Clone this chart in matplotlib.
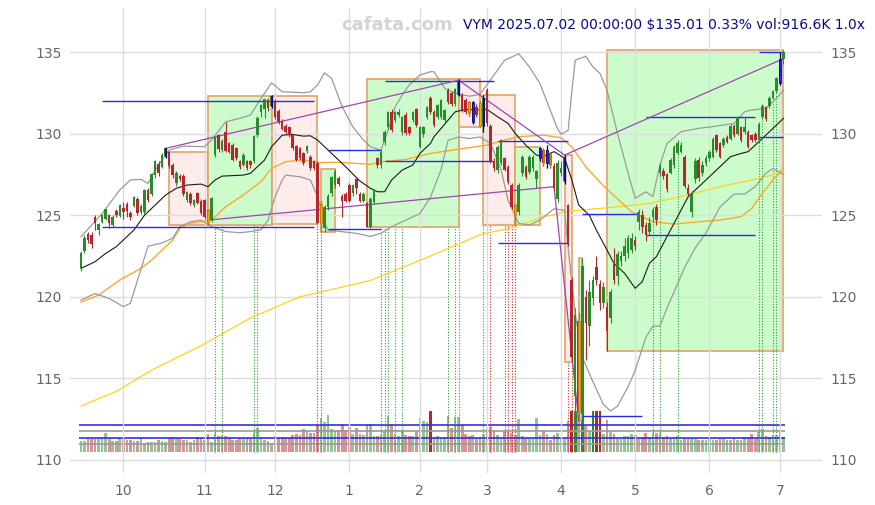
import numpy as np
import pandas as pd
import matplotlib
matplotlib.use('Agg')
import matplotlib.pyplot as plt
from matplotlib.patches import Rectangle

# trading days shown (NYSE closures removed)
holidays = ['2024-11-28', '2024-12-25', '2025-01-01', '2025-01-09', '2025-01-20',
            '2025-02-17', '2025-04-18', '2025-05-26', '2025-06-19']
dates = pd.bdate_range('2024-09-13', '2025-07-02', freq='C', holidays=holidays)

opens = [121.74, 122.83, 123.85, 123.79, 124.91, 124.09, 124.6, 124.8, 124.99, 124.4,
         125.26, 124.97, 125.46, 125.69, 125.15, 125.56, 125.97, 125.22, 125.22, 126.54,
         126.28, 127.46, 128.14, 127.97, 128.63, 128.85, 128.1, 126.95, 127.4, 127.4,
         125.95, 126.3, 125.6, 126.34, 125.87, 125.93, 125.3, 124.7, 128.7, 129.9,
         129.0, 130.12, 129.4, 129.3, 129.1, 128.3, 128.1, 128.3, 128.3, 128.3,
         129.91, 131.3, 131.5, 132.05, 131.7, 132.0, 131.4, 130.8, 130.45, 130.4,
         129.91, 129.24, 129.1, 128.83, 128.95, 128.59, 128.3, 128.2, 124.5, 124.2,
         125.5, 126.34, 126.85, 127.3, 126.2, 126.3, 126.85, 126.34, 127.2, 126.3,
         125.9, 125.73, 124.3, 125.83, 128.48, 128.08, 129.5, 130.42, 131.34, 130.83,
         131.14, 130.12, 131.14, 130.42, 130.83, 131.5, 129.2, 130.0, 131.04, 132.16,
         131.34, 131.04, 131.04, 130.83, 132.67, 132.47, 131.85, 132.4, 132.37, 132.06,
         131.95, 130.73, 131.65, 131.9, 130.5, 132.67, 130.5, 128.3, 127.8, 128.2,
         128.48, 127.97, 126.85, 125.6, 125.2, 127.57, 127.97, 127.67, 127.9, 127.2,
         128.5, 129.0, 128.2, 128.8, 128.0, 126.0, 127.6, 127.1, 125.6, 121.0,
         113.9, 118.5, 112.8, 120.0, 118.2, 119.9, 121.85, 120.8, 119.6, 119.4,
         118.7, 122.0, 121.3, 122.2, 122.5, 122.7, 122.9, 123.5, 124.6, 125.0,
         124.4, 124.0, 124.9, 125.5, 127.6, 127.7, 127.5, 127.6, 128.1, 128.8,
         128.9, 128.6, 126.7, 125.2, 127.2, 128.4, 127.6, 128.2, 128.5, 128.6,
         129.9, 129.4, 129.3, 129.8, 129.7, 130.5, 130.0, 130.4, 130.1, 130.1,
         129.9, 130.0, 129.6, 131.0, 131.65, 131.7, 132.2, 132.6, 133.1, 134.6]
highs = [122.8, 123.8, 124.0, 124.0, 125.0, 124.5, 125.05, 125.4, 125.1, 125.0,
         125.4, 125.7, 125.8, 125.8, 125.25, 126.2, 126.1, 125.7, 126.6, 126.7,
         127.6, 128.4, 128.3, 128.8, 129.15, 128.95, 128.2, 127.7, 127.5, 127.5,
         126.5, 126.4, 126.0, 126.4, 126.0, 126.0, 125.4, 126.1, 129.85, 130.0,
         129.7, 130.7, 129.5, 129.4, 129.2, 128.4, 128.8, 128.4, 128.4, 129.9,
         131.1, 131.8, 132.15, 132.2, 132.37, 132.1, 131.5, 130.9, 130.6, 130.5,
         130.0, 129.3, 129.2, 128.9, 129.3, 128.7, 128.4, 128.3, 125.9, 125.6,
         126.3, 127.4, 127.83, 127.4, 126.3, 126.4, 127.0, 126.9, 127.3, 126.4,
         126.4, 125.8, 126.1, 126.6, 128.6, 129.0, 130.2, 131.4, 131.5, 131.4,
         131.5, 131.1, 131.3, 130.5, 131.4, 131.6, 130.5, 130.5, 131.7, 132.3,
         131.45, 131.8, 132.1, 131.5, 132.8, 132.6, 132.8, 133.33, 132.5, 132.2,
         132.0, 132.0, 131.8, 132.0, 132.37, 132.8, 130.6, 128.5, 129.3, 129.7,
         128.6, 128.1, 127.0, 125.7, 127.0, 128.7, 128.1, 128.7, 128.7, 127.8,
         129.16, 129.1, 129.3, 128.9, 128.2, 128.4, 128.3, 128.69, 125.7, 121.2,
         119.3, 119.0, 122.4, 120.4, 121.0, 121.3, 122.5, 121.0, 120.9, 119.7,
         120.5, 123.0, 122.8, 122.8, 123.6, 123.8, 123.9, 123.7, 125.4, 125.3,
         124.6, 124.9, 125.5, 125.7, 128.2, 127.9, 127.6, 128.5, 129.3, 129.6,
         129.5, 128.7, 126.9, 126.5, 128.5, 128.6, 128.3, 128.7, 129.0, 129.8,
         130.0, 129.5, 129.8, 129.9, 130.6, 130.6, 131.1, 130.5, 131.0, 130.2,
         130.0, 130.1, 130.7, 131.8, 131.7, 132.3, 132.7, 133.5, 135.0, 135.12]
lows = [121.6, 122.7, 123.3, 123.0, 124.1, 123.8, 124.5, 124.7, 124.2, 124.3,
        124.9, 124.9, 124.8, 124.9, 124.7, 125.5, 125.0, 125.1, 125.1, 125.8,
        126.2, 127.3, 127.4, 127.9, 128.5, 127.9, 127.3, 126.8, 127.1, 126.2,
        125.8, 125.6, 125.5, 125.7, 125.0, 124.8, 124.4, 124.6, 128.6, 128.9,
        128.9, 128.9, 128.8, 128.3, 128.4, 127.85, 128.0, 127.8, 127.9, 128.2,
        129.8, 131.0, 130.95, 131.4, 131.6, 130.9, 130.6, 130.2, 130.0, 129.8,
        129.0, 128.3, 128.4, 128.1, 128.8, 127.8, 127.8, 124.45, 124.0, 123.95,
        125.3, 126.2, 126.7, 126.8, 124.9, 125.8, 125.8, 126.2, 126.3, 125.8,
        125.8, 124.26, 124.2, 125.7, 127.9, 127.9, 129.3, 130.3, 130.1, 130.7,
        131.0, 129.9, 129.9, 129.9, 130.7, 130.4, 129.1, 129.8, 130.9, 131.2,
        130.4, 130.9, 130.9, 130.7, 131.8, 131.7, 131.7, 132.3, 131.3, 131.2,
        131.1, 130.6, 131.0, 130.38, 130.1, 130.5, 128.2, 127.7, 127.6, 128.1,
        127.7, 126.9, 125.4, 124.4, 125.0, 127.4, 127.2, 127.5, 127.7, 126.7,
        128.3, 128.0, 127.9, 127.9, 126.5, 125.8, 127.4, 126.9, 123.1, 116.0,
        112.0, 112.4, 112.3, 116.1, 117.0, 119.5, 120.7, 119.2, 119.3, 116.66,
        118.4, 120.8, 120.7, 121.9, 122.2, 122.4, 122.7, 122.9, 124.1, 123.9,
        123.4, 123.8, 124.6, 124.4, 127.4, 127.2, 126.4, 127.5, 127.9, 128.7,
        128.8, 126.7, 126.1, 124.9, 127.0, 127.1, 127.4, 128.0, 128.3, 128.5,
        128.9, 128.5, 129.2, 129.4, 129.6, 129.8, 129.9, 129.5, 130.0, 129.1,
        129.5, 129.5, 129.4, 130.9, 130.8, 131.6, 132.1, 132.5, 133.0, 134.3]
closes = [122.66, 123.58, 123.48, 123.21, 124.54, 124.44, 124.99, 125.36, 124.5, 124.9,
          125.01, 125.62, 125.21, 125.28, 124.91, 126.09, 125.15, 125.56, 126.54, 125.93,
          127.5, 128.34, 127.56, 128.69, 129.1, 128.0, 127.45, 127.6, 127.2, 126.3,
          126.4, 125.75, 125.95, 125.77, 125.11, 124.9, 124.6, 126.03, 129.8, 129.05,
          129.55, 128.95, 128.9, 128.4, 128.5, 127.95, 128.7, 127.9, 128.05, 129.85,
          130.98, 131.75, 132.1, 131.55, 132.3, 131.0, 130.7, 130.3, 130.1, 129.9,
          129.1, 128.38, 128.48, 128.18, 129.24, 127.87, 127.9, 124.5, 125.7, 125.5,
          126.2, 127.36, 127.67, 126.9, 125.9, 125.9, 125.9, 126.85, 126.65, 125.9,
          126.3, 124.3, 126.0, 126.55, 128.08, 128.9, 130.1, 131.34, 130.22, 131.34,
          131.34, 131.04, 130.02, 130.02, 131.34, 130.53, 130.42, 130.42, 131.65, 131.34,
          130.53, 131.75, 132.06, 131.45, 131.95, 131.85, 132.77, 133.2, 131.45, 131.34,
          131.24, 131.95, 131.14, 130.45, 132.2, 130.63, 128.3, 127.9, 129.2, 129.6,
          127.77, 127.05, 125.5, 125.0, 126.85, 128.55, 127.36, 128.55, 128.6, 127.7,
          129.1, 128.2, 129.0, 128.1, 126.65, 128.2, 127.9, 128.5, 123.3, 116.3,
          118.9, 113.0, 121.9, 118.4, 120.3, 121.0, 121.0, 119.6, 120.6, 117.9,
          120.3, 121.0, 122.6, 122.5, 123.1, 123.6, 123.6, 123.1, 125.2, 124.3,
          123.8, 124.5, 125.3, 124.7, 128.0, 127.4, 126.6, 128.4, 129.2, 129.4,
          129.3, 126.8, 126.3, 126.3, 128.3, 127.3, 128.1, 128.5, 128.9, 129.65,
          129.0, 128.6, 129.7, 129.5, 130.5, 129.9, 131.0, 129.6, 130.4, 129.2,
          129.6, 129.6, 130.6, 131.7, 130.9, 132.2, 132.6, 133.4, 134.57, 135.01]
# volume in thousands of shares
volumes = [661, 661, 785, 785, 785, 785, 909, 1157, 785, 661,
           661, 827, 827, 723, 723, 661, 661, 827, 517, 599,
           599, 599, 723, 661, 599, 827, 909, 909, 785, 723,
           723, 599, 723, 909, 827, 723, 1116, 599, 1157, 971,
           1033, 971, 827, 723, 723, 827, 827, 827, 785, 1157,
           1467, 827, 723, 661, 537, 971, 827, 909, 827, 827,
           1033, 1095, 1033, 1405, 1281, 1157, 1157, 1653, 2067, 1839,
           2273, 1405, 1281, 1343, 1715, 1343, 1529, 1095, 1467, 1095,
           1033, 1653, 1715, 971, 971, 1095, 1281, 2211, 1715, 1116,
           971, 1281, 1033, 971, 971, 1219, 2087, 1901, 1839, 3100,
           827, 971, 827, 909, 2211, 1467, 2149, 2149, 1653, 1095,
           971, 1033, 785, 909, 1095, 1405, 1529, 1281, 1033, 785,
           1281, 1219, 1157, 1033, 2025, 971, 785, 785, 785, 2087,
           1033, 1343, 1095, 723, 1033, 1157, 785, 785, 1901, 4200,
           3900, 2300, 3600, 1591, 1281, 2900, 2700, 2600, 1095, 1963,
           1281, 1095, 785, 785, 971, 971, 1095, 1033, 785, 909,
           1157, 909, 1157, 1157, 1157, 909, 971, 785, 785, 971,
           723, 785, 785, 785, 785, 723, 723, 723, 909, 723,
           723, 785, 785, 723, 723, 785, 723, 723, 909, 909,
           1095, 785, 1219, 1405, 971, 909, 1033, 1033, 1219, 916.6]
vol_cap = 2520
vol_levels = [477, 850, 1283, 1655]

# indicator lines: (day index, price)
mid_band = [(0, 121.74), (4, 122.15), (7, 122.66), (10, 123.07), (12, 123.48), (15, 124.09),
            (18, 125.0), (21, 125.62), (24, 126.24), (27, 126.65), (30, 126.85), (34, 126.91),
            (36, 126.75), (38, 127.16), (40, 127.4), (46, 127.46), (48, 127.57), (52, 128.38),
            (54, 129.2), (57, 129.91), (60, 129.95), (63, 129.85), (65, 129.87), (67, 129.61),
            (71, 128.79), (75, 127.97), (79, 127.1), (82, 126.65), (84, 126.44), (86, 126.44),
            (88, 127.16), (91, 127.77), (94, 128.08), (96, 128.79), (99, 129.4), (100, 129.81),
            (104, 130.83), (106, 131.34), (109, 131.49), (112, 131.45), (115, 131.49), (118, 131.04),
            (121, 130.63), (123, 130.02), (126, 129.3), (129, 128.69), (131, 128.6), (134, 128.9),
            (137, 128.5), (139, 127.2), (141, 125.62), (144, 125.0), (146, 124.09), (149, 122.87),
            (151, 122.05), (154, 121.44), (157, 120.52), (159, 120.93), (161, 122.05), (163, 122.46),
            (165, 123.28), (169, 124.91), (172, 126.14), (176, 126.95), (180, 127.77), (184, 128.59),
            (187, 128.79), (189, 128.9), (191, 129.3), (194, 129.91), (197, 130.53), (199, 130.94)]
upper_band = [(0, 123.68), (6, 125.1), (11, 126.55), (14, 127.16), (17, 127.2), (19, 126.95),
              (22, 128.1), (25, 128.99), (29, 129.24), (35, 129.2), (37, 129.61), (41, 130.73),
              (45, 130.94), (48, 131.14), (51, 132.16), (54, 133.12), (57, 132.57), (63, 132.51),
              (65, 132.57), (67, 132.98), (69, 133.73), (71, 133.39), (74, 131.65), (77, 130.43),
              (80, 129.61), (82, 129.2), (85, 128.99), (87, 130.22), (89, 131.65), (91, 132.37),
              (93, 132.98), (96, 133.59), (99, 133.8), (100, 133.8), (103, 132.8), (106, 132.47),
              (110, 132.3), (113, 132.4), (116, 133.3), (120, 134.5), (124, 134.9), (127, 134.1),
              (130, 133.08), (133, 131.4), (135, 130.3), (136, 129.97), (138, 130.2), (139, 132.5),
              (140, 134.5), (143, 134.75), (145, 134.1), (147, 133.7), (149, 132.67), (152, 130.0),
              (155, 127.57), (157, 126.03), (160, 126.44), (162, 126.14), (164, 128.08), (166, 129.4),
              (170, 130.12), (175, 130.33), (179, 130.43), (185, 130.63), (188, 131.35), (190, 131.45),
              (194, 131.55), (197, 132.16), (199, 132.67)]
lower_band = [(0, 119.8), (4, 120.2), (8, 119.9), (12, 119.4), (14, 119.6), (16, 121.0),
              (19, 123.1), (23, 123.3), (26, 123.6), (28, 124.3), (31, 124.6), (34, 124.7),
              (37, 124.3), (41, 124.0), (45, 123.93), (48, 124.0), (51, 124.1), (53, 124.7),
              (55, 126.14), (57, 127.16), (58, 127.46), (62, 127.36), (65, 127.16), (67, 126.14),
              (69, 124.5), (70, 124.1), (74, 123.99), (78, 123.89), (82, 123.7), (85, 123.9),
              (88, 124.3), (92, 124.7), (96, 125.1), (99, 126.1), (102, 127.8), (104, 129.6),
              (107, 129.8), (110, 129.7), (113, 129.8), (116, 129.4), (119, 127.8), (121, 125.9),
              (124, 124.5), (127, 124.4), (130, 124.7), (134, 125.4), (137, 125.3), (138, 123.0),
              (140, 119.0), (142, 116.3), (145, 114.8), (148, 113.4), (150, 113.0), (152, 113.3),
              (155, 114.5), (157, 115.5), (160, 117.5), (162, 118.2), (164, 118.2), (166, 119.3),
              (171, 121.8), (174, 123.0), (177, 123.9), (181, 125.5), (185, 126.3), (188, 126.3),
              (191, 126.75), (194, 127.57), (196, 127.87), (199, 127.5)]
ma_orange = [(0, 119.68), (5, 120.1), (11, 121.03), (17, 121.74), (20, 122.25), (23, 122.87),
             (26, 123.48), (28, 124.2), (31, 124.5), (34, 124.6), (37, 124.7), (41, 125.52),
             (46, 126.24), (51, 127.06), (54, 127.87), (58, 128.28), (63, 128.4), (67, 128.22),
             (72, 128.25), (78, 128.18), (82, 128.12), (85, 128.28), (92, 128.42), (99, 128.79),
             (105, 128.99), (115, 129.3), (120, 129.61), (124, 129.81), (131, 129.91), (136, 129.75),
             (139, 129.2), (143, 127.97), (148, 126.8), (153, 125.8), (156, 125.2), (162, 124.6),
             (168, 124.46), (175, 124.6), (181, 124.7), (187, 124.91), (190, 125.42), (193, 126.34),
             (196, 127.16), (199, 127.87)]
ma_gold = [(0, 113.3), (10, 114.2), (20, 115.5), (34, 117.0), (48, 118.7), (62, 120.0),
           (82, 121.0), (99, 122.5), (113, 123.8), (123, 124.3), (131, 124.9), (138, 125.25),
           (147, 125.42), (157, 125.63), (162, 125.77), (170, 126.14), (181, 126.75), (190, 127.16),
           (199, 127.65)]

# swing boxes: start day, end day, low, high, up-leg?
box_start = [25, 36, 54, 68, 81, 107, 114, 123, 137, 141, 149]
box_end = [36, 54, 67, 72, 107, 113, 123, 130, 139, 142, 199]
box_low = [124.4, 124.4, 124.44, 124.0, 124.26, 130.38, 124.4, 124.4, 116.0, 112.4, 116.66]
box_high = [128.87, 132.3, 132.3, 127.83, 133.33, 133.33, 132.37, 129.16, 128.69, 122.4, 135.12]
box_up = [False, True, False, True, True, False, False, True, False, True, True]

# blue range levels: start day, end day, price
lvl_start = [6, 6, 70, 70, 86, 86, 118, 118, 142, 142, 160, 160, 192, 192]
lvl_end = [66, 66, 85, 85, 117, 117, 138, 138, 158, 159, 191, 191, 199, 199]
lvl_price = [132.0, 124.26, 129.0, 124.13, 133.26, 128.32, 129.55, 123.28,
             125.07, 112.7, 131.0, 123.77, 129.77, 134.98]

# purple trend lines
trend_x0 = [24, 36, 134, 107, 137]
trend_y0 = [129.1, 124.7, 126.75, 133.28, 128.69]
trend_x1 = [107, 134, 141, 137, 199]
trend_y1 = [133.28, 126.75, 112.4, 128.69, 134.6]

pivot_high = [24, 54, 107, 111, 114, 130, 132, 137, 198]
pivot_low = [36, 68, 110, 113, 123, 131, 133, 141]
buy_days = [38, 40, 49, 50, 85, 86, 87, 89, 91, 104, 106, 107, 114, 140,
            162, 164, 169, 192, 193, 196, 197, 198]
sell_days = [67, 68, 116, 120, 121, 122, 123, 138, 139]

o = np.array(opens)
h = np.array(highs)
l = np.array(lows)
c = np.array(closes)
v = np.array(volumes)
x = np.arange(len(c))
up = c >= o
green = '#2b8a2b'
red = '#b3282d'
col = np.where(up, green, red)
vol_floor = 110.5

fig = plt.figure(figsize=(8.75, 5.05), dpi=100, facecolor='white')
ax = fig.add_axes([0.08, 0.0634, 0.8594, 0.9206])
vax = ax.twinx()
vax.set_zorder(ax.get_zorder() - 1)
ax.patch.set_visible(False)

ylo, yhi = 109.2, 137.7
ax.set_xlim(-3.1, 209.9)
ax.set_ylim(ylo, yhi)

# volume (lower layer), 0 sits at vol_floor on the price scale
k = 1012
vax.set_ylim((ylo - vol_floor) * k, (yhi - vol_floor) * k)
big = v >= vol_cap
vax.bar(x[~big], v[~big], width=0.75, color=col[~big], alpha=0.5, lw=0)
vax.bar(x[big], np.full(big.sum(), vol_cap), width=0.75, color=col[big], lw=0)
vax.hlines(vol_levels, -0.5, len(x) - 0.5, colors=['#999999', '#3030e0', '#999999', '#3030e0'], lw=1.2)
vax.axis('off')

# swing boxes
for s, e, lo, hi, isup in zip(box_start, box_end, box_low, box_high, box_up):
    ax.add_patch(Rectangle((s, lo), e - s, hi - lo,
                           facecolor='#ccfccc' if isup else '#fdecea',
                           edgecolor='#e2a266', lw=1.2,
                           zorder=0.9 if e == len(x) - 1 else 1.1))

# signal markers
buy_x = np.array(buy_days)
sell_x = np.array(sell_days)
ax.vlines(buy_x, vol_floor, l[buy_x], colors='#2ca02c', linestyles=(0, (1, 1.5)), lw=0.8, zorder=1.0)
ax.vlines(sell_x, vol_floor, l[sell_x], colors='#d62728', linestyles=(0, (1, 1.5)), lw=0.8, zorder=1.0)

# indicator lines
for pts, color, lw in [(ma_gold, '#ffd21f', 0.9), (ma_orange, '#ffa828', 1.0),
                       (upper_band, '#9a9a9a', 0.9), (lower_band, '#9a9a9a', 0.9),
                       (mid_band, '#1a1a1a', 0.8)]:
    px, py = zip(*pts)
    ax.plot(px, py, color=color, lw=lw, zorder=2)

for s, e, p in zip(lvl_start, lvl_end, lvl_price):
    ax.hlines(p, s, e, colors='#2b2be0', lw=1.0, zorder=2.2)

for xa, ya, xb, yb in zip(trend_x0, trend_y0, trend_x1, trend_y1):
    ax.plot([xa, xb], [ya, yb], color='#a244b4', lw=0.9, zorder=2.2)

# candles
ax.vlines(x, l, h, colors=col, lw=0.8, zorder=3)
ax.bar(x, np.maximum(np.abs(c - o), 0.07), bottom=np.minimum(o, c), width=0.72,
       color=col, lw=0, zorder=3.1)
for idx, fc, ec in [(pivot_high, '#2020ff', '#00007a'), (pivot_low, '#ffa500', '#c87800')]:
    idx = np.array(idx)
    ax.vlines(idx, l[idx], h[idx], colors=ec, lw=0.9, zorder=3.2)
    ax.bar(idx, np.maximum(np.abs(c[idx] - o[idx]), 0.07), bottom=np.minimum(o[idx], c[idx]),
           width=0.45, color=fc, edgecolor=ec, lw=0.5, zorder=3.3)

# axes styling
month_start = [i for i in range(1, len(dates)) if dates[i].month != dates[i - 1].month]
ax.set_xticks(month_start)
ax.set_xticklabels([str(dates[i].month) for i in month_start])
ax.set_yticks([110, 115, 120, 125, 130, 135])
ax.tick_params(length=0, labelsize=10, labelcolor='#666666')
ax.tick_params(axis='x', pad=8)
ax.tick_params(axis='y', labelleft=True, labelright=True, pad=6)
ax.set_axisbelow('line')
ax.grid(True, color='#dddddd', lw=1.0)
for sp in ax.spines.values():
    sp.set_visible(False)

fig.text(0.4537, 0.9505, 'cafata.com', ha='center', va='center', fontsize=13,
         fontweight='bold', color='#d4d4d4')
fig.text(0.529, 0.9505, 'VYM 2025.07.02 00:00:00 $135.01 0.33% vol:916.6K 1.0x',
         ha='left', va='center', fontsize=10, color='#0a0a8c')

fig.savefig('out.png', dpi=100, facecolor='white')
